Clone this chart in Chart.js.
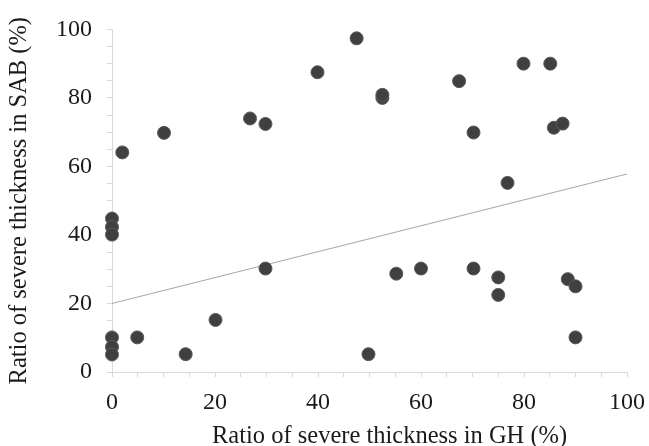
<!DOCTYPE html>
<html>
<head>
<meta charset="utf-8">
<script src="https://cdn.jsdelivr.net/npm/chart.js@4"></script>
<style>
  html, body { margin: 0; padding: 0; background: #fff; }
  #wrap { width: 649px; height: 446px; }
</style>
</head>
<body>
<div id="wrap"><canvas id="chart"></canvas></div>
<script>
// ratio of severe thickness in GH (%)
const ghValues = [2, 10.1, 26.8, 29.8, 39.9, 47.5, 52.5, 52.5, 67.4, 79.9, 85.1, 70.2, 85.8, 87.5, 76.8,
  0, 0, 0, 29.8, 20.1, 4.9, 0, 0, 0, 14.3, 49.8,
  55.2, 60, 70.2, 75, 75, 88.5, 90, 90];
// ratio of severe thickness in SAB (%)
const sabValues = [64.1, 69.8, 74, 72.4, 87.5, 97.4, 80, 80.9, 84.9, 90, 90, 69.9, 71.3, 72.5, 55.2,
  44.8, 42.3, 40.1, 30.2, 15.2, 10.1, 10.1, 7.3, 5.1, 5.2, 5.2,
  28.7, 30.2, 30.2, 27.6, 22.5, 27.1, 25, 10.1];
// linear trend line end points
const trendX = [0, 100];
const trendY = [20, 57.8];

const xTitle = 'Ratio of severe thickness in GH (%)';
const yTitle = 'Ratio of severe thickness in SAB (%)';

const points = ghValues.map((x, i) => ({ x: x, y: sabValues[i] }));
const trend = trendX.map((x, i) => ({ x: x, y: trendY[i] }));

const serif = "'Liberation Serif', 'Times New Roman', Times, serif";
const axisGrey = '#d9d9d9';
const textColor = '#1a1a1a';

function tickLabel(value) {
  return value % 20 === 0 ? String(value) : '';
}

// x axis title sits a bit right of the axis centre in the original
const xTitlePlugin = {
  id: 'xTitle',
  afterDraw(chart) {
    const c = chart.ctx;
    const area = chart.chartArea;
    c.save();
    c.font = '24.5px ' + serif;
    c.fillStyle = textColor;
    c.textAlign = 'center';
    c.textBaseline = 'alphabetic';
    c.fillText(xTitle, area.left + area.width * 0.539, chart.height - 3);
    c.restore();
  }
};

const ctx = document.getElementById('chart').getContext('2d');
new Chart(ctx, {
  type: 'scatter',
  data: {
    datasets: [
      {
        data: trend,
        showLine: true,
        borderColor: '#a6a6a6',
        borderWidth: 1,
        pointRadius: 0,
        clip: false,
        order: 2
      },
      {
        data: points,
        backgroundColor: '#404040',
        borderColor: '#5a5a5a',
        borderWidth: 1,
        pointRadius: 6.5,
        pointHoverRadius: 6.5,
        clip: false,
        order: 1
      }
    ]
  },
  plugins: [xTitlePlugin],
  options: {
    responsive: true,
    maintainAspectRatio: false,
    animation: false,
    layout: { padding: { left: 0, right: 22, top: 27, bottom: 0 } },
    plugins: {
      legend: { display: false },
      tooltip: { enabled: false }
    },
    scales: {
      x: {
        type: 'linear',
        min: 0,
        max: 100,
        afterFit: function(scale) {
          scale.height = 74;
          scale.paddingRight = 0;
          scale.paddingLeft = 0;
        },
        grid: { drawOnChartArea: false, drawTicks: true, tickLength: 5, color: axisGrey },
        border: { color: axisGrey },
        ticks: {
          stepSize: 5,
          autoSkip: false,
          maxRotation: 0,
          padding: 11,
          color: textColor,
          font: { family: serif, size: 24 },
          callback: tickLabel
        },
        title: { display: false }
      },
      y: {
        type: 'linear',
        min: 0,
        max: 100,
        afterFit: function(scale) { scale.width = 112; },
        grid: { drawOnChartArea: false, drawTicks: true, tickLength: 5, color: axisGrey },
        border: { color: axisGrey },
        ticks: {
          stepSize: 5,
          autoSkip: false,
          padding: 15,
          color: textColor,
          font: { family: serif, size: 24 },
          callback: tickLabel
        },
        title: {
          display: true,
          text: yTitle,
          color: textColor,
          font: { family: serif, size: 24.5 },
          padding: { top: 5, bottom: 0 }
        }
      }
    }
  }
});
</script>
</body>
</html>
